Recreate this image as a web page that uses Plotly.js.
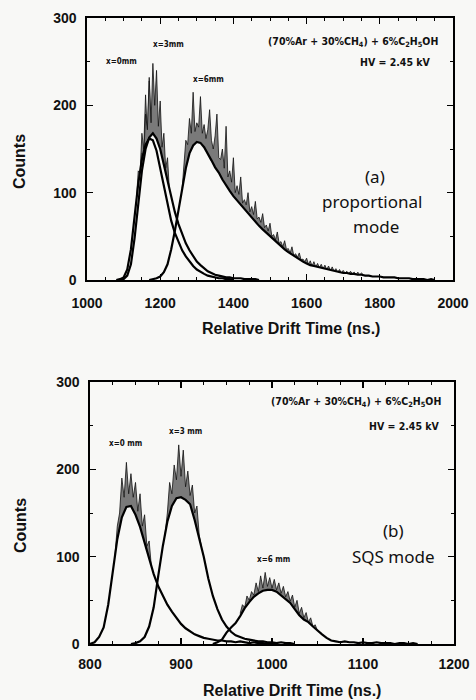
<!DOCTYPE html>
<html>
<head>
<meta charset="utf-8">
<script src="https://cdn.plot.ly/plotly-3.0.1.min.js"></script>
<style>html,body{margin:0;padding:0;background:#f8f8f6;}#chart{width:476px;height:700px;}</style>
</head>
<body>
<div id="chart"></div>
<script>
// ---------- Data (counts per time bin) ----------
// Panel (a): proportional mode, bins of 10 ns (main line) and 5 ns (upper noisy envelope)
var a_step_lo = 10, a_step_hi = 5;
var a_x0_start = 1080;
var a_x0_lo = [0,1,3,12,35,75,110,138,155,162,160,148,128,105,85,68,54,43,34,27,21,16,12,9,7,5,4,3,2,2,1,1,0];
var a_x0_hi_start = 1135;
var a_x0_hi = [92,125,122,168,150,212,165,228,172,200,160,178,140,128];

var a_x3_start = 1090;
var a_x3_lo = [0,1,5,18,48,88,125,150,163,168,162,150,132,112,94,78,64,52,42,34,27,21,17,13,10,8,6,5,4,3,3,2,2,2,1,1,1,1,0];
var a_x3_hi_start = 1145;
var a_x3_hi = [106,145,142,190,172,232,180,248,200,240,176,205,152,168,128,140,103,94];

var a_x6_start = 1170;
var a_x6_lo = [0,1,2,4,9,18,35,56,80,105,128,145,154,158,157,152,145,137,129,123,115,108,102,
  96,91,86,81,76,71,66,62,58,54,50,46,42,38,35,32,29,26,23,21,19,17,16,15,14,13,12,11,10,9,
  8,8,7,7,6,6,5,5,4,4,4,3,3,3,3,2,2,2,2,1,1,1,1,0,1,0];
var a_x6_hi_start = 1260;
var a_x6_hi = [105,135,160,155,185,168,215,170,180,175,210,168,178,162,172,195,160,150,165,190,
  140,138,150,128,176,118,125,112,140,100,108,98,118,88,92,86,100,78,84,75,90,70,72,66,76,60,
  63,56,65,50,52,46,55,42,44,38,45,35,36,31,38,28,30,26,31,23,24,21,25,
  18,22,16,21,15,19,14,18,13,17,12,16,11,15,10,13,9,12,8,11,8,10,7,10,7,9,6,9,6,8,6];

// Panel (b): SQS mode, bins of 5 ns (main line) and 2.5 ns (upper noisy envelope)
var b_step_lo = 5, b_step_hi = 2.5;
var b_x0_start = 800;
var b_x0_lo = [0,2,8,19,45,85,120,145,157,158,148,134,115,97,80,66,55,45,37,30,23,18,14,11,9,7,6,5,4,4,3,3,2,3,2,1,2,1,1,0,1,0];
var b_x0_hi_start = 827.5;
var b_x0_hi = [102,135,150,190,168,208,172,195,168,185,152,172,135,148,112,118,88];

var b_x3_start = 845;
var b_x3_lo = [0,1,3,8,20,42,78,112,140,158,167,168,165,160,142,122,100,75,55,40,28,20,14,10,8,6,5,4,3,3,2,2,1,2,1,1,0];
var b_x3_hi_start = 882.5;
var b_x3_hi = [126,150,185,172,205,188,228,192,222,180,198,170,182,150,158,125,111];

var b_x6_start = 935;
var b_x6_lo = [0,2,5,13,19,24,32,41,48,54,58,61,62,62,60,56,52,47,40,33,28,25,20,15,11,7,4,3,2,3,2,2,1,2,1,1,2,1,1,1,0,1,1,0,1,0];
var b_x6_hi_start = 965;
var b_x6_hi = [35,45,42,55,50,60,56,70,60,78,64,82,66,76,64,74,62,70,58,66,54,60,49,56,42,50,35,42,30,36,25,30,20,22,15];

// Axis ticks
var a_ticks = [1000,1200,1400,1600,1800,2000];
var b_ticks = [800,900,1000,1100,1200];
var y_ticks = [0,100,200,300];

// ---------- Drawing ----------
var BG = '#f8f8f6';
var GRAY = '#7a7a7a';
function grid(start, step, n){ var g=[]; for(var i=0;i<n;i++) g.push(start+i*step); return g; }

var series = [
  {ax:'x', ay:'y', lo:a_x0_lo, loS:a_x0_start, loD:a_step_lo, hi:a_x0_hi, hiS:a_x0_hi_start, hiD:a_step_hi},
  {ax:'x', ay:'y', lo:a_x3_lo, loS:a_x3_start, loD:a_step_lo, hi:a_x3_hi, hiS:a_x3_hi_start, hiD:a_step_hi},
  {ax:'x', ay:'y', lo:a_x6_lo, loS:a_x6_start, loD:a_step_lo, hi:a_x6_hi, hiS:a_x6_hi_start, hiD:a_step_hi},
  {ax:'x2', ay:'y2', lo:b_x0_lo, loS:b_x0_start, loD:b_step_lo, hi:b_x0_hi, hiS:b_x0_hi_start, hiD:b_step_hi},
  {ax:'x2', ay:'y2', lo:b_x3_lo, loS:b_x3_start, loD:b_step_lo, hi:b_x3_hi, hiS:b_x3_hi_start, hiD:b_step_hi},
  {ax:'x2', ay:'y2', lo:b_x6_lo, loS:b_x6_start, loD:b_step_lo, hi:b_x6_hi, hiS:b_x6_hi_start, hiD:b_step_hi}
];

var traces = [];
// layer 1: noisy upper envelopes (gray band)
series.forEach(function(s){
  traces.push({type:'scatter', mode:'lines', xaxis:s.ax, yaxis:s.ay,
    x:grid(s.hiS, s.hiD, s.hi.length), y:s.hi,
    line:{color:'#111', width:0.8}, fill:'tozeroy', fillcolor:GRAY,
    hoverinfo:'skip', showlegend:false});
});
// layer 2: background under main lines
series.forEach(function(s){
  traces.push({type:'scatter', mode:'lines', xaxis:s.ax, yaxis:s.ay,
    x:grid(s.loS, s.loD, s.lo.length), y:s.lo,
    line:{color:BG, width:0}, fill:'tozeroy', fillcolor:BG,
    hoverinfo:'skip', showlegend:false});
});
// layer 3: main histogram lines
series.forEach(function(s){
  traces.push({type:'scatter', mode:'lines', xaxis:s.ax, yaxis:s.ay,
    x:grid(s.loS, s.loD, s.lo.length), y:s.lo,
    line:{color:'#000', width:2.2, shape:'linear'},
    hoverinfo:'skip', showlegend:false});
});

var tickFont = {family:'Liberation Sans, Arial, sans-serif', size:14, color:'#111', weight:'bold'};
function xAxis(dom, range, ticks, minorD, standoff, anchor){
  return {domain:dom, range:range, anchor:anchor, tickmode:'array', tickvals:ticks, ticktext:ticks.map(String),
    ticks:'inside', ticklen:6, tickwidth:1.3, tickcolor:'#000', showline:true, linecolor:'#000', linewidth:1.6,
    mirror:'ticks', showgrid:false, zeroline:false, tickfont:tickFont, ticklabelstandoff:standoff,
    minor:{dtick:minorD, ticks:'inside', ticklen:3, tickwidth:1, tickcolor:'#000', showgrid:false}};
}
function yAxis(dom, anchor){
  return {domain:dom, range:[0,300], anchor:anchor, tickmode:'array', tickvals:y_ticks, ticktext:y_ticks.map(String),
    ticks:'inside', ticklen:6, tickwidth:1.3, tickcolor:'#000', showline:true, linecolor:'#000', linewidth:1.6,
    mirror:'ticks', showgrid:false, zeroline:false, tickfont:tickFont, ticklabelstandoff:6,
    minor:{dtick:50, ticks:'inside', ticklen:3, tickwidth:1, tickcolor:'#000', showgrid:false}};
}

function px(x){ return x/476; }
function py(y){ return 1 - y/700; }
var smallFont = {family:'DejaVu Sans Condensed, Liberation Sans Narrow, sans-serif', size:10.5, color:'#111', weight:'bold'};
var labFont = {family:'DejaVu Sans Condensed, sans-serif', size:8, color:'#111', weight:'bold'};
var modeFont = {family:'Noto Sans, Open Sans, sans-serif', size:17, color:'#111'};
var titleFont = {family:'Liberation Sans, Arial, sans-serif', size:16, color:'#111', weight:'bold'};
function ann(text, x, y, font, xanchor, extra){
  var a = {text:text, x:px(x), y:py(y), xref:'paper', yref:'paper', showarrow:false,
    xanchor:xanchor||'center', yanchor:'middle', font:font};
  if(extra) for(var k in extra) a[k]=extra[k];
  return a;
}
var gas = '(70%Ar + 30%CH<sub>4</sub>) + 6%C<sub>2</sub>H<sub>5</sub>OH';
var annotations = [
  ann(gas, 440, 42, smallFont, 'right'),
  ann('HV = 2.45 kV', 433, 62, smallFont, 'right'),
  ann('(a)', 375, 176, modeFont),
  ann('proportional', 372, 201, modeFont),
  ann('mode', 376, 226, modeFont),
  ann('x=0mm', 122, 62, labFont),
  ann('x=3mm', 168, 45, labFont),
  ann('x=6mm', 208, 79, labFont),
  ann(gas, 443, 402, smallFont, 'right'),
  ann('HV = 2.45 kV', 442, 426, smallFont, 'right'),
  ann('(b)', 393, 530, modeFont),
  ann('SQS mode', 393, 556, modeFont),
  ann('x=0 mm', 125, 444, labFont),
  ann('x=3 mm', 185, 431, labFont),
  ann('x=6 mm', 273, 559, labFont),
  ann('Counts', 19, 162, titleFont, 'center', {textangle:-90}),
  ann('Counts', 20, 526, titleFont, 'center', {textangle:-90}),
  ann('Relative Drift Time (ns.)', 291, 328, titleFont),
  ann('Relative Drift Time (ns.)', 292, 690, titleFont)
];

var layout = {
  width:476, height:700, margin:{l:0, r:0, t:0, b:0},
  paper_bgcolor:BG, plot_bgcolor:BG, showlegend:false,
  xaxis: xAxis([87/476, 453/476], [1000,2000], a_ticks, 50, 10, 'y'),
  yaxis: yAxis([1-280/700, 1-18/700], 'x'),
  xaxis2: xAxis([90/476, 454/476], [800,1200], b_ticks, 25, 7, 'y2'),
  yaxis2: yAxis([1-644/700, 1-382/700], 'x2'),
  annotations: annotations
};
Plotly.newPlot('chart', traces, layout, {staticPlot:true, displayModeBar:false});
</script>
</body>
</html>
